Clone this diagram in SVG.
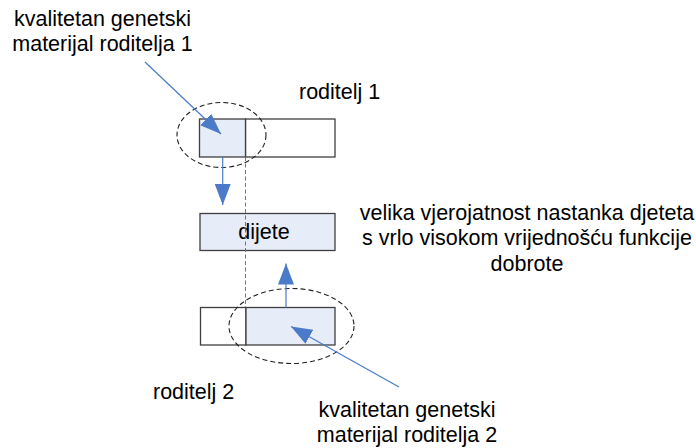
<svg xmlns="http://www.w3.org/2000/svg" width="696" height="448" viewBox="0 0 696 448">
  <defs>
    <marker id="head" markerUnits="userSpaceOnUse" markerWidth="22" markerHeight="16" refX="21" refY="8" orient="auto">
      <path d="M0,0 L21,8 L0,16 z" fill="#4A7AC8"/>
    </marker>
    <style>
      text { font-family: "Liberation Sans", Arial, sans-serif; font-size: 21.5px; fill: #000; }
      .box { stroke: #3f3f3f; stroke-width: 1.3; }
      .hl { fill: #E6ECF8; }
      .plain { fill: #fff; }
      .ring { fill: none; stroke: #222; stroke-width: 1.1; stroke-dasharray: 5 3; }
      .arrow { stroke: #4A7AC8; stroke-width: 1.2; fill: none; marker-end: url(#head); }
      .guide { stroke: #4A7AC8; stroke-width: 1; stroke-dasharray: 4 2.5; fill: none; }
    </style>
  </defs>
  <rect width="696" height="448" fill="#fff"/>

  <g id="label-material-1">
    <text x="102.5" y="26" text-anchor="middle">kvalitetan genetski</text>
    <text x="102.5" y="51" text-anchor="middle">materijal roditelja 1</text>
  </g>

  <g id="parent-1">
    <rect class="box plain" x="245.5" y="119" width="89.5" height="38"/>
    <rect class="box hl" x="199.5" y="119" width="46" height="38"/>
    <text x="299" y="99">roditelj 1</text>
  </g>
  <ellipse id="selection-1" class="ring" cx="221.5" cy="135" rx="44.5" ry="32.5"/>

  <g id="child">
    <rect class="box hl" x="200" y="213.5" width="135" height="37"/>
    <text x="264" y="239" text-anchor="middle">dijete</text>
  </g>

  <g id="label-outcome">
    <text x="527" y="219.5" text-anchor="middle">velika vjerojatnost nastanka djeteta</text>
    <text x="527" y="245" text-anchor="middle">s vrlo visokom vrijednošću funkcije</text>
    <text x="527" y="270.5" text-anchor="middle">dobrote</text>
  </g>

  <g id="parent-2">
    <rect class="box plain" x="200.5" y="307.5" width="45.5" height="37.5"/>
    <rect class="box hl" x="246" y="307.5" width="89" height="37.5"/>
    <text x="153" y="399">roditelj 2</text>
  </g>
  <ellipse id="selection-2" class="ring" cx="291.5" cy="326" rx="62.5" ry="37.5"/>

  <g id="label-material-2">
    <text x="407" y="417" text-anchor="middle">kvalitetan genetski</text>
    <text x="407" y="442" text-anchor="middle">materijal roditelja 2</text>
  </g>

  <g id="connectors">
    <line class="guide" x1="245.5" y1="157" x2="245.5" y2="307"/>
    <line class="arrow" x1="145" y1="62" x2="221" y2="134"/>
    <line class="arrow" x1="222.7" y1="157" x2="222.7" y2="205"/>
    <line class="arrow" x1="286" y1="307.5" x2="286" y2="263.5"/>
    <line class="arrow" x1="399" y1="387" x2="291" y2="326.5"/>
  </g>
</svg>
